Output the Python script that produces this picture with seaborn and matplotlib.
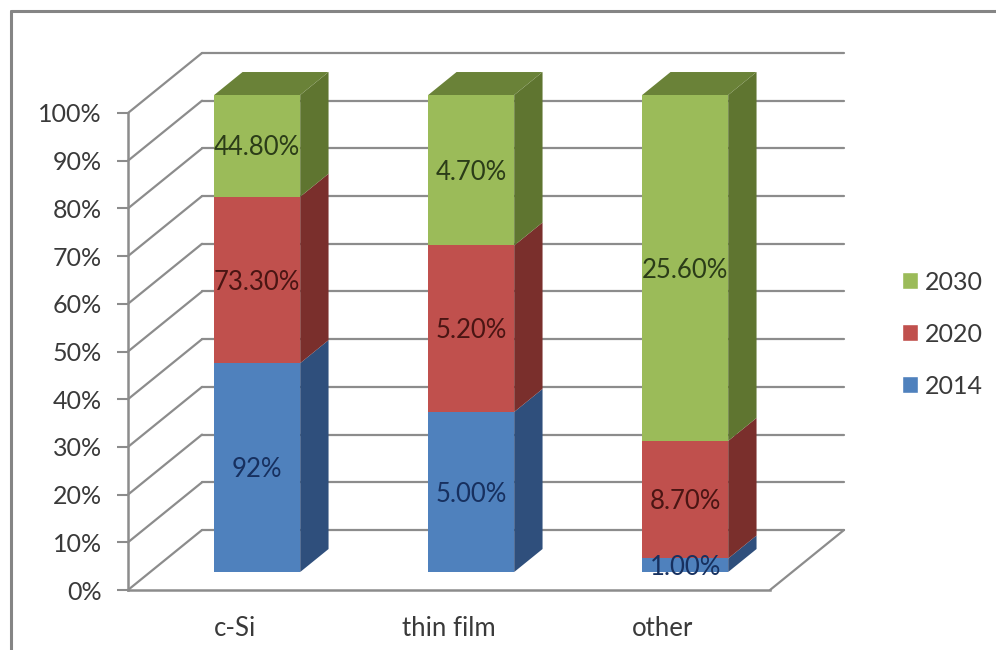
import numpy as np
import pandas as pd
import matplotlib
matplotlib.use("Agg")
import matplotlib.pyplot as plt
from matplotlib.lines import Line2D
from matplotlib.patches import Patch
import seaborn as sns

categories = ["c-Si", "thin film", "other"]
years = ["2014", "2020", "2030"]
v2014 = [92.0, 5.0, 1.0]
v2020 = [73.3, 5.2, 8.7]
v2030 = [44.8, 4.7, 25.6]
labels2014 = ["92%", "5.00%", "1.00%"]
labels2020 = ["73.30%", "5.20%", "8.70%"]
labels2030 = ["44.80%", "4.70%", "25.60%"]
yticks = list(range(0, 101, 10))

front = ["#4F81BD", "#C0504D", "#9BBB59"]
side = ["#2F4F7C", "#7A2F2C", "#5F7530"]
top = ["#37598A", "#8A3532", "#6A8238"]
label_col = ["#17305F", "#4A1513", "#2B3C18"]
GRID = "#8C8C8C"
TXT = "#3A3A3A"

sns.set_theme(style="white")
plt.rcParams["font.family"] = ["Lato", "DejaVu Sans"]

W, H = 996, 650
fig = plt.figure(figsize=(W / 100, H / 100), dpi=100, facecolor="white")
ax = fig.add_axes([128 / W, (H - 590) / H, 642 / W, 477 / H])
ax.set_facecolor("none")

# Oblique projection: depth d (0 front, 1 back wall)
DX = 74 / 214
DY = 60 / 4.77
D_FRONT, D_BACK = 0.30, 0.683
BAR_W = 86 / 214


def proj(x, y, d):
    return x + d * DX, y + d * DY


values = pd.DataFrame({"2014": v2014, "2020": v2020, "2030": v2030}, index=categories)
shares = values.div(values.sum(axis=1), axis=0) * 100
bottoms = shares.cumsum(axis=1).shift(1, axis=1).fillna(0)

# walls and floor
for t in yticks:
    x0, x1 = -0.5, 2.5
    xs, ys = proj(x0, t, 1)
    ax.plot([x0, xs], [t, ys], color=GRID, lw=1.6, zorder=1, clip_on=False)
    xe, ye = proj(x1, t, 1)
    ax.plot([xs, xe], [ys, ye], color=GRID, lw=1.6, zorder=1, clip_on=False)
xe, ye = proj(2.5, 0, 1)
ax.plot([2.5, xe], [0, ye], color=GRID, lw=1.6, zorder=1, clip_on=False)

# front faces
for k, year in enumerate(years):
    sns.barplot(x=categories, y=shares[year].values, bottom=bottoms[year].values,
                color=front[k], saturation=1, width=BAR_W, ax=ax, zorder=3,
                linewidth=0, errorbar=None)
for p in ax.patches:
    p.set_x(p.get_x() + D_FRONT * DX)
    p.set_y(p.get_y() + D_FRONT * DY)
    p.set_clip_on(False)

# side and top faces
for i in range(len(categories)):
    xr = i + BAR_W / 2
    xl = i - BAR_W / 2
    for k, year in enumerate(years):
        b = bottoms[year].values[i]
        e = b + shares[year].values[i]
        pts = [proj(xr, b, D_FRONT), proj(xr, b, D_BACK), proj(xr, e, D_BACK), proj(xr, e, D_FRONT)]
        ax.fill(*zip(*pts), color=side[k], lw=0, zorder=2.5, clip_on=False)
    pts = [proj(xl, 100, D_FRONT), proj(xr, 100, D_FRONT), proj(xr, 100, D_BACK), proj(xl, 100, D_BACK)]
    ax.fill(*zip(*pts), color=top[2], lw=0, zorder=2.5, clip_on=False)

# data labels
all_labels = {"2014": labels2014, "2020": labels2020, "2030": labels2030}
for k, year in enumerate(years):
    for i in range(len(categories)):
        x, y = proj(i, bottoms[year].values[i] + shares[year].values[i] / 2, D_FRONT)
        ax.annotate(all_labels[year][i], (x, y), xytext=(0, -1.5), textcoords="offset points",
                    ha="center", va="center", fontsize=18.5, color=label_col[k], zorder=5)

# axes
ax.set_xlim(-0.5, 2.5)
ax.set_ylim(0, 100)
ax.set_yticks(yticks)
ax.set_yticklabels([f"{t}%" for t in yticks], fontsize=18, color=TXT)
ax.set_xticks(range(3))
ax.set_xticklabels(categories, fontsize=18.5, color=TXT)
ax.set_xticks([-0.5, 0.5, 1.5, 2.5], minor=True)
ax.tick_params(axis="x", which="major", length=0, pad=19)
ax.tick_params(axis="x", which="minor", length=6, width=1.5, color=GRID, direction="out")
ax.tick_params(axis="y", length=8, width=1.5, color=GRID, direction="out", pad=11, left=True)
for s in ["top", "right"]:
    ax.spines[s].set_visible(False)
for s in ["left", "bottom"]:
    ax.spines[s].set_color(GRID)
    ax.spines[s].set_linewidth(1.8)
    ax.spines[s].set_zorder(2)

# legend
handles = [Patch(facecolor=front[k], label=years[k]) for k in (2, 1, 0)]
fig.legend(handles=handles, loc="center left", bbox_to_anchor=(902 / W, 1 - 334 / H),
           frameon=False, fontsize=18, labelcolor=TXT, handlelength=0.64, handleheight=0.64,
           handletextpad=0.28, labelspacing=1.16, borderpad=0, borderaxespad=0)

# outer frame
fig.add_artist(Line2D([11 / W, 1], [1 - 11 / H, 1 - 11 / H], color="#858585", lw=2.2))
fig.add_artist(Line2D([11 / W, 11 / W], [0, 1 - 11 / H], color="#858585", lw=2.2))

fig.savefig("out.png", dpi=100)
